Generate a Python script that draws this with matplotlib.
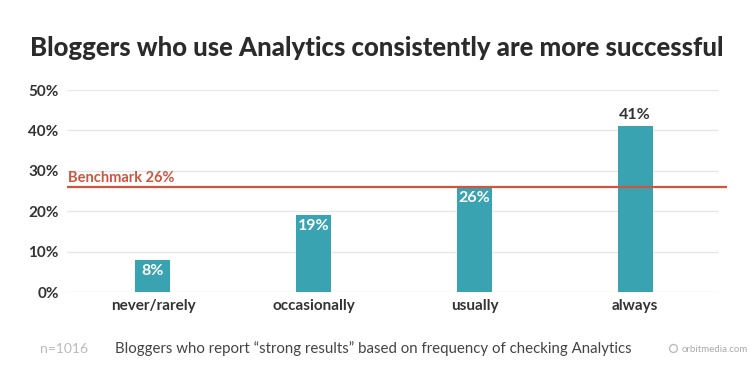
import matplotlib.pyplot as plt

plt.rcParams['font.family'] = ['Lato', 'DejaVu Sans']

categories = ['never/rarely', 'occasionally', 'usually', 'always']
values = [8, 19, 26, 41]
benchmark = 26
yticks = [0, 10, 20, 30, 40, 50]

teal = '#3AA3B1'
red = '#D0553C'
dark = '#333333'

fig = plt.figure(figsize=(7.54, 3.84), dpi=100)
ax = fig.add_axes([67 / 754, 1 - 292 / 384, 660 / 754, 202 / 384])

x = range(len(categories))
ax.set_xlim(-0.535, 3.572)
ax.set_ylim(0, 50)

# gridlines stop a bit before the benchmark line
ax.hlines(yticks, -0.535, 3.516, color='#E6E6E6', lw=1, zorder=0)
ax.axhline(benchmark, color=red, lw=1.6, zorder=3)
ax.text(-0.53, benchmark + 0.6, f'Benchmark {benchmark}%', color=red,
        fontsize=10.5, fontweight='bold', va='bottom', ha='left')

bars = ax.bar(x, values, width=0.218, color=teal, zorder=2)

for i, v in enumerate(values):
    if v > 30:
        ax.text(i, v + 1.2, f'{v}%', ha='center', va='bottom', color=dark,
                fontsize=11.5, fontweight='bold')
    else:
        ax.text(i, v - 1.0, f'{v}%', ha='center', va='top', color='white',
                fontsize=11.5, fontweight='bold')

ax.set_yticks(yticks)
ax.set_yticklabels([f'{t}%' for t in yticks], fontsize=11, color=dark, fontweight='bold')
ax.set_xticks(list(x))
ax.set_xticklabels(categories, fontsize=11, color=dark, fontweight='bold')
ax.tick_params(length=0, pad=6)
ax.tick_params(axis='x', pad=5)
for s in ax.spines.values():
    s.set_visible(False)

fig.text(377 / 754, 1 - 48 / 384,
         'Bloggers who use Analytics consistently are more successful',
         ha='center', va='center', fontsize=18.5, fontweight='black', color='#2b2b2b')

fig.text(40 / 754, 1 - 349 / 384, 'n=1016', fontsize=10, color='#BBBBBB', va='center')
fig.text(115 / 754, 1 - 349 / 384,
         'Bloggers who report \u201cstrong results\u201d based on frequency of checking Analytics',
         fontsize=10.8, color='#444444', va='center')
fig.text(673 / 754, 1 - 349 / 384, '\u25CB', fontsize=12, color='#BBBBBB', va='center', ha='center')
fig.text(682 / 754, 1 - 349 / 384, 'orbitmedia.com', fontsize=7, color='#AAAAAA', va='center')

fig.savefig('out.png', dpi=100, facecolor='white')
